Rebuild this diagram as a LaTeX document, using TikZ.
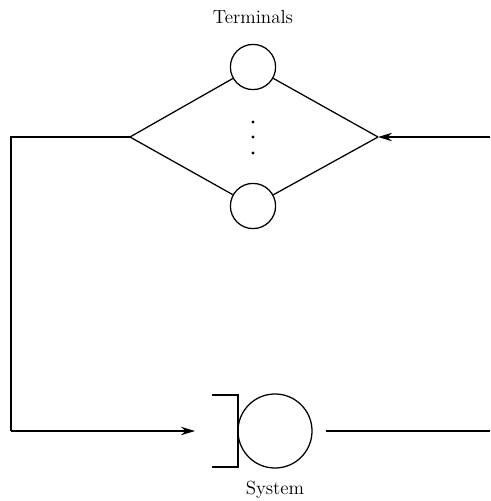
\documentclass[tikz,border=0pt]{standalone}
\usetikzlibrary{arrows.meta}
\tikzstyle{line}=[line width=0.9pt, black]
\tikzstyle{arr}=[line, -{Stealth[length=10pt,width=6pt]}]
\tikzstyle{terminal}=[circle, draw, line width=0.9pt, inner sep=0pt, minimum size=1.13cm]
\tikzstyle{server}=[circle, draw, line width=0.9pt, inner sep=0pt, minimum size=1.85cm]
\tikzstyle{dot}=[circle, fill=black, inner sep=0pt, minimum size=2.2pt]
\tikzstyle{label}=[font=\fontsize{13.5}{15}\selectfont]

\begin{document}
\begin{tikzpicture}[x=0.025cm, y=-0.025cm]
			\useasboundingbox (0,0) rectangle (491,501);

			% Terminals
			\node[terminal]   (t1) at (253,  67) {};
			\node[terminal]   (t2) at (253, 206) {};
			\node[dot]        (d1) at (253, 122) {};
			\node[dot]        (d2) at (253, 137) {};
			\node[dot]        (d3) at (253, 153) {};
			\coordinate       (jl) at (130, 137);
			\coordinate       (jr) at (378, 137);
			\coordinate      (inr) at (490, 137);
			\coordinate      (cnl) at ( 11, 137);
			\node[label]    (tlab) at (253,  17) {Terminals};

			% System
			\node[server]    (sys) at (275, 431) {};
			\coordinate      (bt1) at (212, 395);
			\coordinate      (bt2) at (238, 395);
			\coordinate      (bb2) at (238, 467);
			\coordinate      (bb1) at (212, 467);
			\coordinate      (cbl) at ( 11, 431);
			\coordinate      (qin) at (195, 431);
			\coordinate      (out) at (490, 431);
			\node[label]    (slab) at (275, 490) {System};

			%%% Diamond
			\draw[line] (jl) -- (t1) (t1) -- (jr) (jl) -- (t2) (t2) -- (jr);
			\draw[arr] (inr) -- (jr);

			%%% Loop back to system
			\draw[line] (jl) -- (cnl) -- (cbl);
			\draw[arr] (cbl) -- (qin);

			%%% Queue
			\draw[line] (bt1) -- (bt2) -- (bb2) -- (bb1);
			\draw[line] (sys.east) ++(13,0) -- (out);
		\end{tikzpicture}
\end{document}
